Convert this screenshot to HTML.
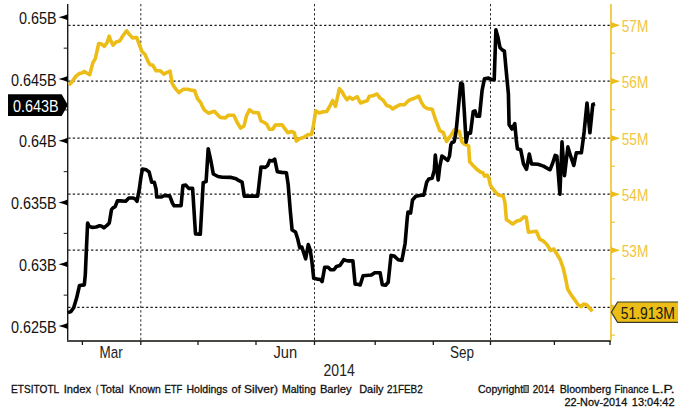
<!DOCTYPE html>
<html><head><meta charset="utf-8"><title>Chart</title>
<style>
html,body{margin:0;padding:0;background:#fff;}
body{width:683px;height:414px;overflow:hidden;font-family:"Liberation Sans",sans-serif;}
svg{display:block;}
</style></head><body>
<svg width="683" height="414" viewBox="0 0 683 414">
<line x1="68.2" y1="25.3" x2="611" y2="25.3" stroke="#1e1e1e" stroke-width="1.25" stroke-dasharray="2.3 2.27"/>
<line x1="68.2" y1="81.2" x2="611" y2="81.2" stroke="#1e1e1e" stroke-width="1.25" stroke-dasharray="2.3 2.27"/>
<line x1="68.2" y1="138.2" x2="611" y2="138.2" stroke="#1e1e1e" stroke-width="1.25" stroke-dasharray="2.3 2.27"/>
<line x1="68.2" y1="194.2" x2="611" y2="194.2" stroke="#1e1e1e" stroke-width="1.25" stroke-dasharray="2.3 2.27"/>
<line x1="68.2" y1="250.2" x2="611" y2="250.2" stroke="#1e1e1e" stroke-width="1.25" stroke-dasharray="2.3 2.27"/>
<line x1="68.2" y1="307.4" x2="611" y2="307.4" stroke="#1e1e1e" stroke-width="1.25" stroke-dasharray="2.3 2.27"/>
<line x1="140.8" y1="4" x2="140.8" y2="341" stroke="#2a2a2a" stroke-width="1" stroke-dasharray="2.3 2.27"/>
<line x1="314.5" y1="4" x2="314.5" y2="341" stroke="#2a2a2a" stroke-width="1" stroke-dasharray="2.3 2.27"/>
<line x1="490.5" y1="4" x2="490.5" y2="341" stroke="#2a2a2a" stroke-width="1" stroke-dasharray="2.3 2.27"/>
<line x1="67.7" y1="4" x2="67.7" y2="341.5" stroke="#1a1a1a" stroke-width="1.4"/>
<line x1="67.0" y1="341" x2="611" y2="341" stroke="#4a4844" stroke-width="2"/>
<line x1="82.4" y1="341" x2="82.4" y2="345" stroke="#1a1a1a" stroke-width="1.3"/>
<line x1="140.8" y1="341" x2="140.8" y2="345" stroke="#1a1a1a" stroke-width="1.3"/>
<line x1="198" y1="341" x2="198" y2="345" stroke="#1a1a1a" stroke-width="1.3"/>
<line x1="256" y1="341" x2="256" y2="345" stroke="#1a1a1a" stroke-width="1.3"/>
<line x1="314.5" y1="341" x2="314.5" y2="345" stroke="#1a1a1a" stroke-width="1.3"/>
<line x1="375.2" y1="341" x2="375.2" y2="345" stroke="#1a1a1a" stroke-width="1.3"/>
<line x1="433.3" y1="341" x2="433.3" y2="345" stroke="#1a1a1a" stroke-width="1.3"/>
<line x1="490.5" y1="341" x2="490.5" y2="345" stroke="#1a1a1a" stroke-width="1.3"/>
<line x1="554.4" y1="341" x2="554.4" y2="345" stroke="#1a1a1a" stroke-width="1.3"/>
<line x1="610" y1="341" x2="610" y2="345" stroke="#1a1a1a" stroke-width="1.3"/>
<line x1="611" y1="4" x2="611" y2="340.5" stroke="#ECBD16" stroke-width="1.5"/>
<path d="M58.5,17.30 Q64.7,15.60 67.7,14.30 L67.7,20.30 Q64.7,19.00 58.5,17.30 Z" fill="#000"/>
<path d="M58.5,79.04 Q64.7,77.34 67.7,76.04 L67.7,82.04 Q64.7,80.74 58.5,79.04 Z" fill="#000"/>
<path d="M58.5,140.78 Q64.7,139.08 67.7,137.78 L67.7,143.78 Q64.7,142.48 58.5,140.78 Z" fill="#000"/>
<path d="M58.5,202.52 Q64.7,200.82 67.7,199.52 L67.7,205.52 Q64.7,204.22 58.5,202.52 Z" fill="#000"/>
<path d="M58.5,264.26 Q64.7,262.56 67.7,261.26 L67.7,267.26 Q64.7,265.96 58.5,264.26 Z" fill="#000"/>
<path d="M58.5,326.00 Q64.7,324.30 67.7,323.00 L67.7,329.00 Q64.7,327.70 58.5,326.00 Z" fill="#000"/>
<line x1="63.7" y1="48.17" x2="67.7" y2="48.17" stroke="#1a1a1a" stroke-width="1"/>
<line x1="63.7" y1="109.91" x2="67.7" y2="109.91" stroke="#1a1a1a" stroke-width="1"/>
<line x1="63.7" y1="171.65" x2="67.7" y2="171.65" stroke="#1a1a1a" stroke-width="1"/>
<line x1="63.7" y1="233.39" x2="67.7" y2="233.39" stroke="#1a1a1a" stroke-width="1"/>
<line x1="63.7" y1="295.13" x2="67.7" y2="295.13" stroke="#1a1a1a" stroke-width="1"/>
<path d="M620.2,25.30 Q614,23.50 611,22.10 L611,28.50 Q614,27.10 620.2,25.30 Z" fill="#ECBD16"/>
<path d="M620.2,81.20 Q614,79.40 611,78.00 L611,84.40 Q614,83.00 620.2,81.20 Z" fill="#ECBD16"/>
<path d="M620.2,138.20 Q614,136.40 611,135.00 L611,141.40 Q614,140.00 620.2,138.20 Z" fill="#ECBD16"/>
<path d="M620.2,194.20 Q614,192.40 611,191.00 L611,197.40 Q614,196.00 620.2,194.20 Z" fill="#ECBD16"/>
<path d="M620.2,250.20 Q614,248.40 611,247.00 L611,253.40 Q614,252.00 620.2,250.20 Z" fill="#ECBD16"/>
<path d="M620.2,307.40 Q614,305.60 611,304.20 L611,310.60 Q614,309.20 620.2,307.40 Z" fill="#ECBD16"/>
<line x1="611" y1="53.20" x2="615" y2="53.20" stroke="#ECBD16" stroke-width="1"/>
<line x1="611" y1="109.70" x2="615" y2="109.70" stroke="#ECBD16" stroke-width="1"/>
<line x1="611" y1="166.20" x2="615" y2="166.20" stroke="#ECBD16" stroke-width="1"/>
<line x1="611" y1="222.20" x2="615" y2="222.20" stroke="#ECBD16" stroke-width="1"/>
<line x1="611" y1="278.80" x2="615" y2="278.80" stroke="#ECBD16" stroke-width="1"/>
<line x1="611" y1="335.20" x2="615" y2="335.20" stroke="#ECBD16" stroke-width="1"/>
<polyline points="68.7,84.9 71.6,82.4 75.8,76.4 79.2,73.6 81.8,73 84.3,71.4 86.8,73 89.7,74.7 92.8,62.9 95.3,58.7 98.7,43.5 101.5,44 104.3,46.3 107.1,42.6 109.2,36.2 110.5,40 113,45.1 116.4,41.8 119.8,40.9 122.9,35.8 126.6,30.8 129.1,34.1 132.5,37.9 136.7,37.5 139.3,44.3 141.7,51.2 145.1,54.6 147.6,60.5 150.1,64.8 152.7,65.1 156.1,70.7 160.3,70.7 163.7,74.1 167.1,72.4 170.1,71.2 172.1,83.4 174.7,87.6 178.9,92.7 183.1,89.3 187.4,89.3 190.7,90.1 194.5,90.5 197.5,98.6 200.9,102.8 202,105.6 204.2,109.8 208.5,113.2 214.4,111.2 216.9,114 220.3,117.4 225.4,117.9 228.4,115.2 233.8,115.2 237.2,122.5 240.6,128.1 244,125.9 246.5,115.7 249.4,109.8 253.3,112.4 258.4,112.9 260.9,120.8 264.3,122.5 266.8,124.2 269.3,129.3 272.7,129.3 275.3,125 281.9,124.7 284.5,128.1 287.8,132.7 291.2,131.5 294.3,132.7 296.3,141.1 299.7,138.6 303.9,137.2 307.3,134.9 311.5,134.4 313.5,125 315.7,110.7 319.1,112.9 322.5,111.9 326.7,111.5 330.1,105.6 332.7,100.5 335.5,106.4 339.4,88.7 342.3,92.1 344.5,96.3 347,99.7 349.6,97.1 352.6,99.3 357.1,96.7 360.5,103 363.8,101.8 367.2,100.8 369.3,96.2 373.1,95.7 377,94 379.9,97.9 383.3,100.4 386.7,105.5 390.1,106.4 392.6,108.9 396.8,106.4 400.2,104.7 404.4,104.7 408.7,100.4 412.9,98.8 418.8,96.2 421.3,102.1 423.9,106.4 427.3,108.6 432.2,109.2 435.6,119.7 439.8,130.7 443.2,132.4 446.6,141.3 450.8,135.7 454.2,129.8 459.3,131.5 461.8,141.7 464.4,144.2 468.6,145.9 469.7,161.8 472.8,165.2 477,169.5 480.4,172 482.9,172.8 484.6,176.2 487.1,175 488.8,177.9 490.5,185.5 493.1,189.2 496.4,193.1 499,195.3 503.2,196 504.9,202.4 506.4,219.5 509.3,221.6 512.7,224 516.9,221.1 520.3,220.3 523.7,216.9 526.2,217.3 528.4,232.1 532.1,231.8 536.4,231.3 539.7,239.2 543.1,240.9 546.5,244 550.7,250.4 553.8,249 556.7,253.8 560,259.2 563.2,268 565.6,278.5 567.6,289 570.7,294.2 574.5,299.5 578.2,304.7 581.2,306.7 583.5,304 586.5,304.7 589.5,308.2 592.5,311.2" fill="none" stroke="#ECBD16" stroke-width="3.6" stroke-linejoin="round" stroke-linecap="butt"/>
<polyline points="67.9,312.6 70.8,311.6 73.7,307.7 76.6,298.1 79.5,285.5 84.3,284.9 85.3,274.8 86.3,251.6 87.6,223 89.1,226.3 92,227.4 96.3,227 99.6,225.7 101.7,226.3 103.9,227.8 107.2,225.2 109.3,223 111.5,209.6 113,207.8 115.2,206.7 117.4,200.9 120.2,200.9 125.7,201.3 128.9,198 133.3,198 135.4,199.1 137,201.3 139.1,190.4 140.9,177.4 142.4,169.1 146.3,169.8 149.1,172 151.7,182.2 154.3,182.2 156.1,189.3 156.7,197 161.5,197 164.8,195.4 169.8,196.1 172.4,203 174.1,205.7 181.1,205.7 182.9,185.5 185.8,185.1 188.7,188.4 192.6,188.4 195.5,233.9 200.3,234.3 203.2,182.6 206.1,181.6 208.2,148.7 211.1,162 213.3,174 218,176.5 222.4,177.2 231.2,177.4 236.1,178.7 238.6,180.4 242.1,182.2 244.3,196.1 257.7,196.1 261,167 265.3,167.4 267.5,165.7 269.7,160.4 272.5,160.9 274.7,159.1 277.3,171.7 281.7,172.4 286.4,172.8 288.2,184.8 290.3,210.9 292.1,230 295.5,232 297.6,238.5 299.8,247.8 301.8,247 303.5,252.1 305.6,258.8 308.3,244.5 310.3,250.4 312,262.2 313.7,278.3 317.1,279.1 320.4,279.5 322.1,281.7 324.7,267.3 328.1,267.3 330.6,269.8 334,269.8 336.5,266.4 339.9,265.6 343.8,259.7 347.5,260.9 352.9,260.9 355.1,284.2 357.7,284.2 360.2,285 363.1,275.7 371.4,275 374.7,272.8 380.1,272.8 382.3,284.8 385.6,285.2 388.2,282.2 391,255.4 394.3,256.1 398.2,259.8 401.9,260.4 405.1,243.5 407.3,217.4 408,212 410.6,213 412.5,200 415.8,196.3 421.2,195.2 423.8,195.2 426.7,182.2 428.8,178.9 432.1,178.3 434.3,170.2 435.3,155 436.4,165.9 438.2,180 439.7,167 441.9,156.1 445.1,158.3 447.7,160.4 449.5,156.1 450.9,144.5 452,142.5 454.1,141.7 454.9,138.1 456.2,130.5 458,111.7 460.7,83.1 462.5,84 464.3,111.7 466.1,142.1 467.9,133.1 470.5,133.1 473.2,111.7 475,110.8 476.8,116.2 479.5,116.2 482.1,90.3 484.4,78.8 488.7,78.1 492,79.8 494.2,79.8 495.9,29.9 498,37.5 500,47.7 502.7,50.2 504.4,51.1 506.4,73 508.4,94 509.1,124.8 512,129.1 514.8,123.7 516.3,140 517.4,148.7 520.7,149.8 523.5,163.9 526.5,169.3 529.3,154.1 531.5,163.9 538,164.3 543.5,166.1 548.9,169.3 550.1,169.7 552.7,163 555.2,155.4 556.9,156.2 559.9,194.2 562,141.8 564.5,175.6 567.9,146.9 570.4,155.4 573.8,165.5 576.3,152.8 581.4,152.8 583.1,140.1 584.1,132 587,103 589.9,132.8 592.8,104.5 595,103.8" fill="none" stroke="#000" stroke-width="3.6" stroke-linejoin="round" stroke-linecap="butt"/>
<text x="19.0" y="23.8" font-family="Liberation Sans, sans-serif" font-size="16" fill="#111" textLength="37.6" lengthAdjust="spacingAndGlyphs">0.65B</text>
<text x="11.0" y="85.5" font-family="Liberation Sans, sans-serif" font-size="16" fill="#111" textLength="45.6" lengthAdjust="spacingAndGlyphs">0.645B</text>
<text x="19.0" y="147.3" font-family="Liberation Sans, sans-serif" font-size="16" fill="#111" textLength="37.6" lengthAdjust="spacingAndGlyphs">0.64B</text>
<text x="11.0" y="209.0" font-family="Liberation Sans, sans-serif" font-size="16" fill="#111" textLength="45.6" lengthAdjust="spacingAndGlyphs">0.635B</text>
<text x="19.0" y="270.8" font-family="Liberation Sans, sans-serif" font-size="16" fill="#111" textLength="37.6" lengthAdjust="spacingAndGlyphs">0.63B</text>
<text x="11.0" y="332.5" font-family="Liberation Sans, sans-serif" font-size="16" fill="#111" textLength="45.6" lengthAdjust="spacingAndGlyphs">0.625B</text>
<text x="621.8" y="32.1" font-family="Liberation Sans, sans-serif" font-size="16" fill="#F1C53C" textLength="26.4" lengthAdjust="spacingAndGlyphs">57M</text>
<text x="621.8" y="88.0" font-family="Liberation Sans, sans-serif" font-size="16" fill="#F1C53C" textLength="26.4" lengthAdjust="spacingAndGlyphs">56M</text>
<text x="621.8" y="145.0" font-family="Liberation Sans, sans-serif" font-size="16" fill="#F1C53C" textLength="26.4" lengthAdjust="spacingAndGlyphs">55M</text>
<text x="621.8" y="201.0" font-family="Liberation Sans, sans-serif" font-size="16" fill="#F1C53C" textLength="26.4" lengthAdjust="spacingAndGlyphs">54M</text>
<text x="621.8" y="257.0" font-family="Liberation Sans, sans-serif" font-size="16" fill="#F1C53C" textLength="26.4" lengthAdjust="spacingAndGlyphs">53M</text>
<path d="M8,94.3 L61.7,94.3 L67.3,104 L67.3,106 L61.7,115.9 L8,115.9 Z" fill="#000"/>
<text x="13.0" y="112.0" font-family="Liberation Sans, sans-serif" font-size="16" fill="#fff" textLength="45.7" lengthAdjust="spacingAndGlyphs">0.643B</text>
<path d="M678,302 L617.6,302 L611.4,312.2 L617.6,322.4 L678,322.4" fill="#ECBD16" stroke="#3a3a2a" stroke-width="1.2"/>
<text x="620.8" y="318.7" font-family="Liberation Sans, sans-serif" font-size="16" fill="#1a1a10" textLength="54.1" lengthAdjust="spacingAndGlyphs">51.913M</text>
<text x="99.5" y="357.6" font-family="Liberation Sans, sans-serif" font-size="16.3" fill="#222" textLength="23.1" lengthAdjust="spacingAndGlyphs">Mar</text>
<text x="273.5" y="357.6" font-family="Liberation Sans, sans-serif" font-size="16.3" fill="#222" textLength="23.7" lengthAdjust="spacingAndGlyphs">Jun</text>
<text x="450" y="357.6" font-family="Liberation Sans, sans-serif" font-size="16.3" fill="#222" textLength="24.0" lengthAdjust="spacingAndGlyphs">Sep</text>
<text x="323.6" y="376" font-family="Liberation Sans, sans-serif" font-size="16" fill="#222" textLength="31.1" lengthAdjust="spacingAndGlyphs">2014</text>
<text x="11.1" y="392.6" font-family="Liberation Sans, sans-serif" font-size="11" fill="#111" textLength="48.1" lengthAdjust="spacingAndGlyphs" stroke="#111" stroke-width="0.3">ETSITOTL</text>
<text x="63.7" y="392.6" font-family="Liberation Sans, sans-serif" font-size="11" fill="#111" textLength="27.3" lengthAdjust="spacingAndGlyphs" stroke="#111" stroke-width="0.3">Index</text>
<text x="96.1" y="392.6" font-family="Liberation Sans, sans-serif" font-size="11" fill="#111" textLength="2.3" lengthAdjust="spacingAndGlyphs" stroke="#111" stroke-width="0.3">(</text>
<text x="100.2" y="392.6" font-family="Liberation Sans, sans-serif" font-size="11" fill="#111" textLength="23.6" lengthAdjust="spacingAndGlyphs" stroke="#111" stroke-width="0.3">Total</text>
<text x="129.1" y="392.6" font-family="Liberation Sans, sans-serif" font-size="11" fill="#111" textLength="31.8" lengthAdjust="spacingAndGlyphs" stroke="#111" stroke-width="0.3">Known</text>
<text x="164.4" y="392.6" font-family="Liberation Sans, sans-serif" font-size="11" fill="#111" textLength="18.0" lengthAdjust="spacingAndGlyphs" stroke="#111" stroke-width="0.3">ETF</text>
<text x="186.5" y="392.6" font-family="Liberation Sans, sans-serif" font-size="11" fill="#111" textLength="41.0" lengthAdjust="spacingAndGlyphs" stroke="#111" stroke-width="0.3">Holdings</text>
<text x="231.6" y="392.6" font-family="Liberation Sans, sans-serif" font-size="11" fill="#111" textLength="9.2" lengthAdjust="spacingAndGlyphs" stroke="#111" stroke-width="0.3">of</text>
<text x="244.1" y="392.6" font-family="Liberation Sans, sans-serif" font-size="11" fill="#111" textLength="33.8" lengthAdjust="spacingAndGlyphs" stroke="#111" stroke-width="0.3">Silver)</text>
<text x="282" y="392.6" font-family="Liberation Sans, sans-serif" font-size="11" fill="#111" textLength="33.8" lengthAdjust="spacingAndGlyphs" stroke="#111" stroke-width="0.3">Malting</text>
<text x="319.9" y="392.6" font-family="Liberation Sans, sans-serif" font-size="11" fill="#111" textLength="31.8" lengthAdjust="spacingAndGlyphs" stroke="#111" stroke-width="0.3">Barley</text>
<text x="359.2" y="392.6" font-family="Liberation Sans, sans-serif" font-size="11" fill="#111" textLength="24.4" lengthAdjust="spacingAndGlyphs" stroke="#111" stroke-width="0.3">Daily</text>
<text x="386.9" y="392.6" font-family="Liberation Sans, sans-serif" font-size="11" fill="#111" textLength="35.8" lengthAdjust="spacingAndGlyphs" stroke="#111" stroke-width="0.3">21FEB2</text>
<text x="478" y="392.7" font-family="Liberation Sans, sans-serif" font-size="11" fill="#111" textLength="45.1" lengthAdjust="spacingAndGlyphs" stroke="#111" stroke-width="0.3">Copyright</text>
<text x="532.8" y="392.7" font-family="Liberation Sans, sans-serif" font-size="11" fill="#111" textLength="21.7" lengthAdjust="spacingAndGlyphs" stroke="#111" stroke-width="0.3">2014</text>
<text x="559.7" y="392.7" font-family="Liberation Sans, sans-serif" font-size="11" fill="#111" textLength="51.5" lengthAdjust="spacingAndGlyphs" stroke="#111" stroke-width="0.3">Bloomberg</text>
<text x="614.6" y="392.7" font-family="Liberation Sans, sans-serif" font-size="11" fill="#111" textLength="34.1" lengthAdjust="spacingAndGlyphs" stroke="#111" stroke-width="0.3">Finance</text>
<text x="652.1" y="392.7" font-family="Liberation Sans, sans-serif" font-size="11" fill="#111" textLength="22.5" lengthAdjust="spacingAndGlyphs" stroke="#111" stroke-width="0.3">L.P.</text>
<rect x="523.9" y="385.5" width="4.4" height="7" fill="#9aa8a0" stroke="#2a2a2a" stroke-width="0.9"/>
<text x="564.4" y="406.4" font-family="Liberation Sans, sans-serif" font-size="11" fill="#111" textLength="62.8" lengthAdjust="spacingAndGlyphs" stroke="#111" stroke-width="0.3">22-Nov-2014</text>
<text x="631.8" y="406.4" font-family="Liberation Sans, sans-serif" font-size="11" fill="#111" textLength="42.8" lengthAdjust="spacingAndGlyphs" stroke="#111" stroke-width="0.3">13:04:42</text>
</svg>
</body></html>
